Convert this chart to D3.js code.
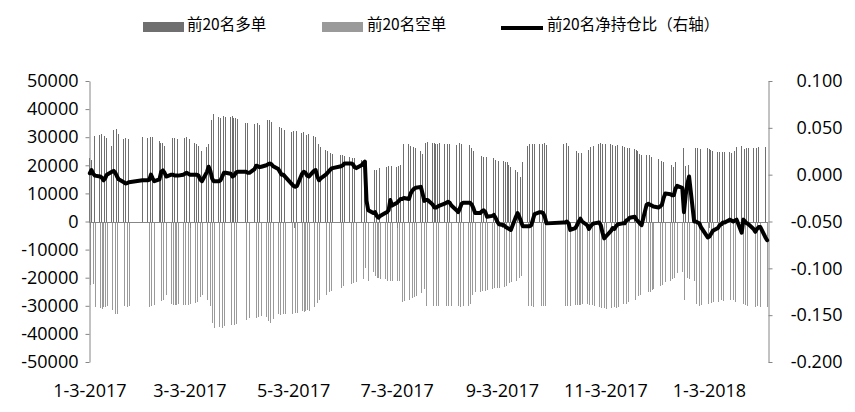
<!DOCTYPE html>
<html><head><meta charset="utf-8">
<script src="https://cdn.jsdelivr.net/npm/d3@7"></script>
<style>body{margin:0;background:#fff} svg{display:block}</style>
</head><body><svg id="c" width="855" height="412"></svg>
<script>
// ---- calendar (trading days) ----
const firstDay = "2017-01-03";
const lastDay = "2018-02-06";
const holidays = ["2017-01-27","2017-01-30","2017-01-31","2017-02-01","2017-02-02",
  "2017-04-03","2017-04-04","2017-05-01","2017-05-29","2017-05-30",
  "2017-10-02","2017-10-03","2017-10-04","2017-10-05","2017-10-06","2018-01-01"];

// ---- series: 前20名多单 ----
const longPositions = [
  22600,22000,22300,30500, 30800,31200,30900,30400,29800, 27000,32500,33200,32800,31000, 29500,29800,29600,29200,
  30000, 29800,30200,30100,29900,29500, 28500,28000,27800,27000,26500, 29700,29800,29600,29500,29300, 29800,29700,
  29900,29600,29200, 28000,27600,27000,26000,25200, 26500,27500,28500,36000,38200, 37200,37000,37300,37500,37100, 37200,37400,37000,36800,36500,
  35200,35000,34800, 34800,34600,35000,34200,33800, 34500,36000,36200,35500,35000, 33000,33500,33200,33000,32500,
  32000,32300,32500,32200, 31500,31800,31200,30800,31000, 30500,30000,28500,27500,26500, 25500,25000,24500,24300,24000, 23600,
  23500,23400, 23000,22800,22500,22500,22300, 22000,21800,21600,21500,21800, 17000,18200,18500,18800,19000, 19200,19500,19600,19500,19800,
  19500,19800,20000,27000,27500, 27500,27000,26800,26500,26000, 25000,24000,23500,28000,28200, 28000,27800,27500,27600,27800, 27500,
  27800,27500,27600,27400, 27200,27500,27800,27600,27400, 27500,27200,26000,25000,23500, 23500,23200,23000,23200,23000, 22800,22500,22000,21500,
  21500, 21500,21200,21000,20000,19500, 18500,17500,17000,16000,21000, 27000,27500,27800,27600,27500, 27500,27200,27500,27800,27300,
  27500,27200,27800,27000,26500, 26000,25000,24500,24000,24500, 25000,25500,26500,26800,27000, 27500,27800,
  27500,27800,27600, 27500,27300,27200,27000,27100, 26800,26500,26200,26000,26000, 25800,25500,25000,24000,23600, 23600,23400,23500,23000,
  22500, 22200,22000,21500,21000,20500, 20200,20000,19500,21000,21500, 21000,26000,19800,19500,20000, 19800,26000,26200,26000,25800,
  26000,25800,25500,25000, 24800,24800,24700,24600,24800, 24800,24500,24300,25000,26500, 27000,26000,25800,26000,26200, 26000,26200,26300,
  26500,26700,26400,26800
];

// ---- series: 前20名空单 ----
const shortPositions = [
  -22500,-22000,-22200,-30500, -30800,-31000,-30600,-30500,-30200, -31500,-32500,-33000,-32800,-32000, -30000,-30200,-30300,-30000,
  -30200, -30000,-30300,-30200,-30000,-29800, -28800,-28400,-27800,-27000,-26200, -29500,-29800,-29700,-29600,-29400, -29700,-29800,
  -29900,-29700,-29500, -29000,-28500,-28000,-27000,-26000, -28000,-29000,-30000,-36000,-37800, -37500,-37200,-37800,-37300,-37000, -37000,-37200,-36800,-36500,-36200,
  -35000,-34800,-34500, -34500,-34200,-34000,-33800,-33500, -34000,-35500,-36000,-35200,-34800, -33000,-33400,-33200,-33000,-32800,
  -33000,-32800,-32600,-32500, -32000,-32300,-31800,-31500,-31800, -30500,-30000,-29000,-28000,-27000, -26000,-25500,-25000,-24800,-24500, -23500,
  -23000,-22800, -22500,-22200,-22000,-21800,-21500, -21000,-20500,-16500,-20800,-21000, -18000,-19500,-20000,-20200,-20500, -20500,-21000,-21200,-21000,-21300,
  -21000,-21200,-18000,-28500,-28400, -28000,-27500,-27200,-27000,-26500, -25500,-24500,-24000,-30000,-30200, -30000,-30300,-30100,-30000,-30200, -30000,
  -30200,-30000,-30300,-30100, -30000,-30200,-30400,-30100,-30000, -30000,-29500,-26000,-25500,-25000, -25000,-24800,-25000,-24700,-24500, -24000,-23800,-23500,-23500,
  -23500, -23300,-23000,-22500,-22000,-21500, -21000,-20500,-20000,-19500,-22500, -30000,-30200,-30000,-30300,-30100, -30000,-30200,-30100,-30000,-30200,
  -30000,-30200,-30100,-29800,-29900, -29800,-29700,-29800,-29600,-29500, -29500,-29700,-30000,-29800,-30200, -30500,-30800,
  -31000,-30800,-31000, -30800,-31000,-30500,-30700,-30300, -29500,-29000,-29200,-28800,-28500, -28000,-27500,-26500,-26000,-25800, -25500,-25200,-25000,-24500,
  -24000, -23500,-23000,-22500,-22000,-21500, -21000,-20500,-20000,-19000,-18500, -18000,-28000,-19500,-20000,-20500, -21000,-29500,-29800,-30000,-29800,
  -29500,-29200,-29000,-28800, -28500,-28300,-28000,-28200,-28000, -27800,-28000,-27900,-28500,-29500, -31000,-29500,-29800,-30000,-30200, -30000,-30300,-30200,
  -30500,-30400,-30800,-30600
];

// ---- series: 前20名净持仓比（右轴） ----
const netRatio = [
  0.0015,0.005,0.001,-0.001, -0.002,-0.003,-0.006,-0.004,0.000, 0.003,0.004,0.002,-0.002,-0.005, -0.008,-0.0095,-0.009,-0.008,
  -0.006, -0.006,-0.0055,0.000,-0.004,-0.007, -0.005,0.003,0.0045,0.002,-0.002, 0.000,0.000,-0.001,-0.001,-0.001, 0.000,0.001,
  0.002,0.001,0.000, 0.000,0.000,-0.001,-0.005,-0.007, 0.003,0.0085,0.004,-0.004,-0.007, -0.007,-0.006,-0.002,0.002,0.002, 0.001,-0.002,-0.001,0.002,0.003,
  0.003,0.002,0.002, 0.006,0.0095,0.009,0.008,0.0085, 0.010,0.011,0.012,0.011,0.009, 0.006,0.003,0.000,0.000,-0.002,
  -0.010,-0.012,-0.013,-0.012, 0.001,0.003,0.002,-0.001,-0.002, 0.004,0.005,-0.002,-0.006,-0.004, 0.000,0.002,0.004,0.006,0.007, 0.009,
  0.010,0.012, 0.012,0.012,0.011,0.008,0.007, 0.010,0.012,0.014,-0.028,-0.038, -0.041,-0.040,-0.044,-0.046,-0.044, -0.041,-0.040,-0.038,-0.027,-0.033,
  -0.030,-0.028,-0.026,-0.026,-0.025, -0.026,-0.020,-0.017,-0.015,-0.014, -0.013,-0.020,-0.028,-0.027,-0.027, -0.032,-0.035,-0.035,-0.034,-0.033, -0.031,
  -0.030,-0.029,-0.030,-0.033, -0.038,-0.040,-0.036,-0.031,-0.030, -0.030,-0.030,-0.032,-0.036,-0.041, -0.041,-0.039,-0.038,-0.040,-0.045, -0.044,-0.043,-0.046,-0.050,
  -0.053, -0.054,-0.056,-0.057,-0.058,-0.059, -0.045,-0.041,-0.045,-0.050,-0.055, -0.055,-0.055,-0.054,-0.048,-0.042, -0.040,-0.040,-0.041,-0.045,-0.052,
  -0.051,-0.051,-0.050,-0.052,-0.059, -0.057,-0.054,-0.050,-0.047,-0.050, -0.054,-0.058,-0.055,-0.053,-0.052, -0.051,-0.054,
  -0.062,-0.068,-0.066, -0.060,-0.057,-0.058,-0.055,-0.053, -0.052,-0.052,-0.049,-0.048,-0.046, -0.045,-0.048,-0.050,-0.052,-0.054, -0.032,-0.031,-0.032,-0.033,
  -0.034, -0.035,-0.034,-0.032,-0.025,-0.020, -0.021,-0.022,-0.022,-0.015,-0.012, -0.014,-0.040,-0.022,-0.010,-0.002, -0.050,-0.050,-0.051,-0.052,-0.056,
  -0.067,-0.066,-0.063,-0.060, -0.057,-0.054,-0.053,-0.051,-0.051, -0.048,-0.049,-0.050,-0.049,-0.048, -0.062,-0.048,-0.050,-0.052,-0.053, -0.058,-0.061,-0.058,
  -0.056,-0.056,-0.067,-0.070
];

// ---- axes ----
const leftTicks = [50000,40000,30000,20000,10000,0,-10000,-20000,-30000,-40000,-50000];
const rightTicks = [0.1,0.05,0,-0.05,-0.1,-0.15,-0.2];
const xTickDates = ["2017-01-03","2017-03-03","2017-05-03","2017-07-03","2017-09-03","2017-11-03","2018-01-03"];
const xTickLabels = ["1-3-2017","3-3-2017","5-3-2017","7-3-2017","9-3-2017","11-3-2017","1-3-2018"];
const legendLabels = ["前20名多单","前20名空单","前20名净持仓比（右轴）"];
const colors = {long:"#6f6f6f", short:"#9a9a9a", line:"#000000", axis:"#868686"};

// ---- build ----
const parse = d3.utcParse("%Y-%m-%d");
const holidaySet = new Set(holidays);
const fmt = d3.utcFormat("%Y-%m-%d");
const days = d3.utcDay.range(parse(firstDay), d3.utcDay.offset(parse(lastDay),1))
  .filter(d => d.getUTCDay()!==0 && d.getUTCDay()!==6 && !holidaySet.has(fmt(d)));
const data = days.map((d,i)=>({date:d, long:longPositions[i], short:shortPositions[i], ratio:netRatio[i]}));

const svg = d3.select("#c");
const FONT = "'Open Sans', 'DejaVu Sans', sans-serif";
const L = 89, R = 768, T = 81, B = 362;

const x = d3.scaleUtc().domain([parse(firstDay), d3.utcDay.offset(parse(lastDay),1)]).range([L, R]);
const yL = d3.scaleLinear().domain([-50000, 50000]).range([B, T]);
const yR = d3.scaleLinear().domain([-0.2, 0.1]).range([B, T]);
const slot = x(d3.utcDay.offset(parse(firstDay),1)) - x(parse(firstDay));

// bars
const gBars = svg.append("g").attr("shape-rendering","crispEdges");
gBars.selectAll("rect.l").data(data).join("rect").attr("class","l")
  .attr("x", d => x(d.date) + slot*0.12).attr("width", slot*0.42)
  .attr("y", d => yL(Math.max(0,d.long))).attr("height", d => Math.abs(yL(d.long)-yL(0)))
  .attr("fill", colors.long);
gBars.selectAll("rect.s").data(data).join("rect").attr("class","s")
  .attr("x", d => x(d.date) + slot*0.54).attr("width", slot*0.42)
  .attr("y", d => yL(0)).attr("height", d => Math.abs(yL(d.short)-yL(0)))
  .attr("fill", colors.short);

// zero (category) axis
svg.append("line").attr("x1",L).attr("x2",R).attr("y1",Math.round(yL(0))+0.5).attr("y2",Math.round(yL(0))+0.5)
  .attr("stroke",colors.axis).attr("stroke-width",1);
svg.append("g").selectAll("line").data(xTickDates).join("line")
  .attr("x1", d => Math.round(x(parse(d)) + slot*0.5)+0.5).attr("x2", d => Math.round(x(parse(d)) + slot*0.5)+0.5)
  .attr("y1", Math.round(yL(0))).attr("y2", Math.round(yL(0))+6)
  .attr("stroke",colors.axis);

// x labels
svg.append("g").selectAll("text").data(xTickDates).join("text")
  .attr("x", d => x(parse(d)) + slot*0.5).attr("y", 397)
  .attr("text-anchor","middle").attr("font-family",FONT).attr("font-size",18).attr("fill","#000")
  .text((d,i)=>xTickLabels[i]);

// left axis
const axL = svg.append("g").attr("transform",`translate(${L+0.5},0)`)
  .call(d3.axisLeft(yL).tickValues(leftTicks).tickSize(4).tickSizeOuter(0).tickPadding(7).tickFormat(d=>String(d)));
axL.select(".domain").attr("stroke",colors.axis);
axL.selectAll(".tick line").attr("stroke",colors.axis);
axL.selectAll("text").attr("font-family",FONT).attr("font-size",18).attr("fill","#000");

// right axis
const axR = svg.append("g").attr("transform",`translate(${R+0.5},0)`)
  .call(d3.axisRight(yR).tickValues(rightTicks).tickSize(4).tickSizeOuter(0).tickFormat(d=>d.toFixed(3)));
axR.select(".domain").attr("stroke",colors.axis);
axR.selectAll(".tick line").attr("stroke",colors.axis);
axR.selectAll("text").attr("font-family",FONT).attr("font-size",18).attr("fill","#000")
  .attr("text-anchor","end").attr("x", 842-R);

// ratio line
svg.append("path").datum(data)
  .attr("d", d3.line().x(d => x(d.date)+slot*0.5).y(d => yR(d.ratio)))
  .attr("fill","none").attr("stroke",colors.line).attr("stroke-width",4)
  .attr("stroke-linejoin","round").attr("stroke-linecap","round");

// legend
const CJK = "'Noto Sans CJK SC', sans-serif";
const lg = svg.append("g");
lg.append("rect").attr("x",143).attr("y",22).attr("width",41).attr("height",10).attr("fill",colors.long);
lg.append("rect").attr("x",322).attr("y",22).attr("width",41).attr("height",10).attr("fill",colors.short);
lg.append("line").attr("x1",501).attr("x2",543).attr("y1",28).attr("y2",28).attr("stroke",colors.line).attr("stroke-width",4);
const lx = [187, 367, 547];
lg.selectAll("text").data(legendLabels).join("text")
  .attr("x",(d,i)=>lx[i]).attr("y",30).attr("font-family",CJK).attr("font-size",15.5).attr("fill","#000")
  .text(d=>d);
</script></body></html>
